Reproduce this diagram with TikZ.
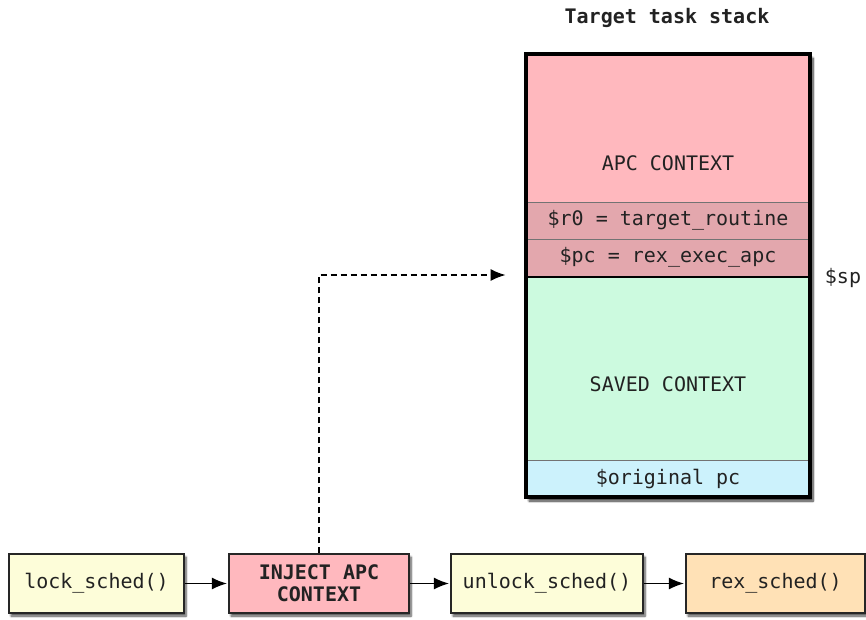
\documentclass[tikz,border=0pt]{standalone}
\usepackage{fontspec}
\setmainfont{DejaVu Sans Mono}
\usetikzlibrary{arrows.meta,shadows.blur,calc}
\definecolor{apcpink}{HTML}{FFB8BE}
\definecolor{rowpink}{HTML}{E3A7AD}
\definecolor{savedgreen}{HTML}{CCFADF}
\definecolor{pcblue}{HTML}{CCF2FC}
\definecolor{calyellow}{HTML}{FDFDD9}
\definecolor{schedorange}{HTML}{FFE1B6}
\definecolor{inkgray}{HTML}{222222}
\tikzset{
  every node/.style={font=\fontsize{20}{24}\selectfont, text=inkgray},
  section/.style={rectangle, draw=black!55, line width=1pt, minimum width=284pt, inner sep=0pt},
  callbox/.style={rectangle, draw=black!85, line width=1.3pt, minimum height=59pt, inner sep=0pt,
    blur shadow={shadow xshift=2pt, shadow yshift=-3pt, shadow blur steps=6, shadow opacity=70}},
  flowtip/.tip={Latex[length=15pt,width=12pt]},
  flow/.style={line width=1.2pt, arrows={-flowtip}, shorten >=1.5pt},
}
\begin{document}
\begin{tikzpicture}[x=1pt,y=-1pt]
\useasboundingbox (0,0) rectangle (866,619);

% title
\node[font=\fontsize{20}{24}\selectfont\bfseries] (title) at (667,18) {Target task stack};

% stack frame (shadow only, border is drawn on top afterwards)
\node[rectangle, fill=white, minimum width=284pt, minimum height=443pt, inner sep=0pt,
  blur shadow={shadow xshift=3pt, shadow yshift=-4pt, shadow blur steps=8, shadow opacity=80}]
  (stack) at (668,275.5) {};

% stack sections
\node[section, fill=apcpink, minimum height=148pt] (apc) at (668,128) {};
\node (apclabel) at (668,163) {APC CONTEXT};
\node[section, fill=rowpink, minimum height=37pt] (r0) at (668,220.5) {\$r0 = target\_routine};
\node[section, fill=rowpink, minimum height=37pt] (pc) at (668,257.5) {\$pc = rex\_exec\_apc};
\node[section, fill=savedgreen, minimum height=184pt] (saved) at (668,368) {};
\node (savedlabel) at (668,384) {SAVED CONTEXT};
\node[section, fill=pcblue, minimum height=37pt] (orig) at (668,478.5) {\$original pc};
\draw[black, line width=2pt] (pc.south west) -- (pc.south east);
\draw[black, line width=4pt] (stack.north west) rectangle (stack.south east);

% stack pointer
\node (sp) at (843,278) {\$sp};

% call sequence
\node[callbox, fill=calyellow, minimum width=175pt] (lock) at (96.5,583.5) {lock\_sched()};
\node[callbox, fill=apcpink, minimum width=180pt, align=center,
  font=\fontsize{20}{22}\selectfont\bfseries] (inject) at (319,583.5) {INJECT APC\\CONTEXT};
\node[callbox, fill=calyellow, minimum width=192pt] (unlock) at (547,583.5) {unlock\_sched()};
\node[callbox, fill=schedorange, minimum width=179pt] (rex) at (775.5,583.5) {rex\_sched()};

\draw[flow] (lock) -- (inject);
\draw[flow] (inject) -- (unlock);
\draw[flow] (unlock) -- (rex);

% injected frame
\coordinate (inject-target) at (507,275);
\draw[flow, dash pattern=on 6pt off 4pt] (inject.north) |- (inject-target);
\end{tikzpicture}
\end{document}
